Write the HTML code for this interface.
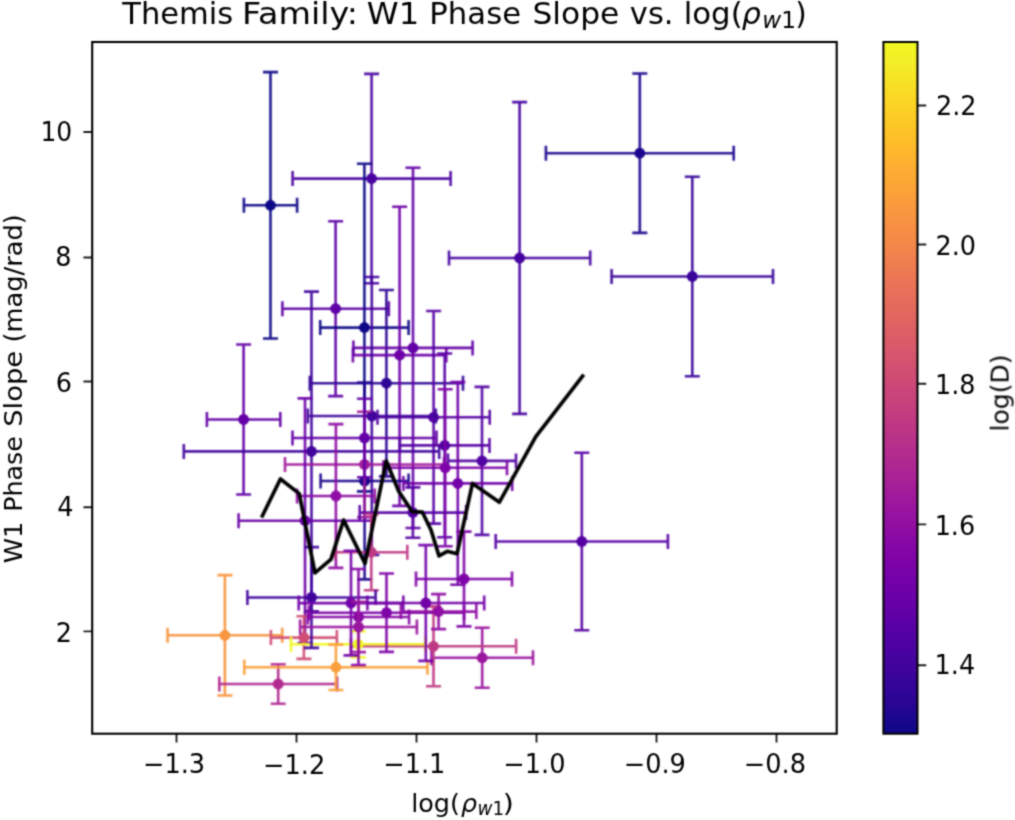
<!DOCTYPE html>
<html lang="en"><head><meta charset="utf-8"><title>Themis Family: W1 Phase Slope vs. log(rho_W1)</title>
<style>html,body{margin:0;padding:0;background:#fff;overflow:hidden}svg{display:block}text{font-family:'DejaVu Sans','Liberation Sans',sans-serif;fill:#000}</style></head><body>
<svg width="1015" height="820" viewBox="0 0 1015 820">
<defs><filter id="bl" x="0" y="0" width="1015" height="820" filterUnits="userSpaceOnUse" color-interpolation-filters="sRGB"><feConvolveMatrix order="5 1" kernelMatrix="0.02193 0.22851 0.49912 0.22851 0.02193" edgeMode="duplicate" preserveAlpha="false" result="h"/><feConvolveMatrix in="h" order="1 5" kernelMatrix="0.02193 0.22851 0.49912 0.22851 0.02193" edgeMode="duplicate" preserveAlpha="false"/></filter><filter id="bt" x="0" y="0" width="1015" height="820" filterUnits="userSpaceOnUse" color-interpolation-filters="sRGB"><feConvolveMatrix order="5 1" kernelMatrix="0.00539 0.18786 0.61348 0.18786 0.00539" edgeMode="duplicate" preserveAlpha="false" result="h"/><feConvolveMatrix in="h" order="1 5" kernelMatrix="0.00539 0.18786 0.61348 0.18786 0.00539" edgeMode="duplicate" preserveAlpha="false"/></filter>
<linearGradient id="pl" x1="0" y1="0" x2="0" y2="1"><stop offset="0.0000" stop-color="#f0f921"/><stop offset="0.0312" stop-color="#f4ed27"/><stop offset="0.0625" stop-color="#f8df25"/><stop offset="0.0938" stop-color="#fcd225"/><stop offset="0.1250" stop-color="#fdc527"/><stop offset="0.1562" stop-color="#feb82c"/><stop offset="0.1875" stop-color="#fdac33"/><stop offset="0.2188" stop-color="#fba139"/><stop offset="0.2500" stop-color="#f89540"/><stop offset="0.2812" stop-color="#f58b47"/><stop offset="0.3125" stop-color="#f0804e"/><stop offset="0.3438" stop-color="#eb7655"/><stop offset="0.3750" stop-color="#e66c5c"/><stop offset="0.4062" stop-color="#e06363"/><stop offset="0.4375" stop-color="#da5a6a"/><stop offset="0.4688" stop-color="#d35171"/><stop offset="0.5000" stop-color="#cc4778"/><stop offset="0.5312" stop-color="#c43e7f"/><stop offset="0.5625" stop-color="#bc3587"/><stop offset="0.5938" stop-color="#b32c8e"/><stop offset="0.6250" stop-color="#aa2395"/><stop offset="0.6562" stop-color="#a01a9c"/><stop offset="0.6875" stop-color="#9511a1"/><stop offset="0.7188" stop-color="#8a09a5"/><stop offset="0.7500" stop-color="#7e03a8"/><stop offset="0.7812" stop-color="#7201a8"/><stop offset="0.8125" stop-color="#6600a7"/><stop offset="0.8438" stop-color="#5901a5"/><stop offset="0.8750" stop-color="#4c02a1"/><stop offset="0.9062" stop-color="#3f049c"/><stop offset="0.9375" stop-color="#310597"/><stop offset="0.9688" stop-color="#220690"/><stop offset="1.0000" stop-color="#0d0887"/></linearGradient></defs>
<rect width="1015" height="820" fill="#fff"/>
<g filter="url(#bl)">
<g id="errorbars" stroke-width="2.60" fill="none">
<g stroke="#0d0887"><path d="M243.9 205.3H297.1M270.5 72.1V338.5M243.9 197.8v15.0M297.1 197.8v15.0M263.0 72.1h15.0M263.0 338.5h15.0" stroke-opacity="0.93"/><path d="M276.5 205.3L274.4 209.2L270.5 211.3L266.6 209.2L264.5 205.3L266.6 201.4L270.5 199.3L274.4 201.4Z" fill="#0d0887" stroke="none"/></g>
<g stroke="#4903a0"><path d="M292.6 178.6H450.6M371.6 73.9V283.3M292.6 171.1v15.0M450.6 171.1v15.0M364.1 73.9h15.0M364.1 283.3h15.0" stroke-opacity="0.93"/><path d="M377.6 178.6L375.5 182.5L371.6 184.6L367.7 182.5L365.6 178.6L367.7 174.7L371.6 172.6L375.5 174.7Z" fill="#4903a0" stroke="none"/></g>
<g stroke="#1b068d"><path d="M545.9 153.2H733.7M639.8 73.5V232.9M545.9 145.7v15.0M733.7 145.7v15.0M632.3 73.5h15.0M632.3 232.9h15.0" stroke-opacity="0.93"/><path d="M645.8 153.2L643.7 157.1L639.8 159.2L635.9 157.1L633.8 153.2L635.9 149.3L639.8 147.2L643.7 149.3Z" fill="#1b068d" stroke="none"/></g>
<g stroke="#38049a"><path d="M611.6 276.5H773.0M692.3 176.8V376.2M611.6 269.0v15.0M773.0 269.0v15.0M684.8 176.8h15.0M684.8 376.2h15.0" stroke-opacity="0.93"/><path d="M698.3 276.5L696.2 280.4L692.3 282.5L688.4 280.4L686.3 276.5L688.4 272.6L692.3 270.5L696.2 272.6Z" fill="#38049a" stroke="none"/></g>
<g stroke="#46039f"><path d="M449.0 258.0H590.2M519.6 102.1V413.9M449.0 250.5v15.0M590.2 250.5v15.0M512.1 102.1h15.0M512.1 413.9h15.0" stroke-opacity="0.93"/><path d="M525.6 258.0L523.5 261.9L519.6 264.0L515.7 261.9L513.6 258.0L515.7 254.1L519.6 252.0L523.5 254.1Z" fill="#46039f" stroke="none"/></g>
<g stroke="#6300a7"><path d="M206.9 419.5H280.3M243.6 344.5V494.5M206.9 412.0v15.0M280.3 412.0v15.0M236.1 344.5h15.0M236.1 494.5h15.0" stroke-opacity="0.93"/><path d="M249.6 419.5L247.5 423.4L243.6 425.5L239.7 423.4L237.6 419.5L239.7 415.6L243.6 413.5L247.5 415.6Z" fill="#6300a7" stroke="none"/></g>
<g stroke="#5e01a6"><path d="M282.4 308.7H388.8M335.6 221.3V396.1M282.4 301.2v15.0M388.8 301.2v15.0M328.1 221.3h15.0M328.1 396.1h15.0" stroke-opacity="0.93"/><path d="M341.6 308.7L339.5 312.6L335.6 314.7L331.7 312.6L329.6 308.7L331.7 304.8L335.6 302.7L339.5 304.8Z" fill="#5e01a6" stroke="none"/></g>
<g stroke="#0d0887"><path d="M320.2 327.6H408.6M364.4 163.8V491.4M320.2 320.1v15.0M408.6 320.1v15.0M356.9 163.8h15.0M356.9 491.4h15.0" stroke-opacity="0.93"/><path d="M370.4 327.6L368.3 331.5L364.4 333.6L360.5 331.5L358.4 327.6L360.5 323.7L364.4 321.6L368.3 323.7Z" fill="#0d0887" stroke="none"/></g>
<g stroke="#2f0596"><path d="M309.8 383.2H463.0M386.4 290.0V476.4M309.8 375.7v15.0M463.0 375.7v15.0M378.9 290.0h15.0M378.9 476.4h15.0" stroke-opacity="0.93"/><path d="M392.4 383.2L390.3 387.1L386.4 389.2L382.5 387.1L380.4 383.2L382.5 379.3L386.4 377.2L390.3 379.3Z" fill="#2f0596" stroke="none"/></g>
<g stroke="#6e00a8"><path d="M352.9 355.1H446.3M399.6 206.7V505.9M352.9 347.6v15.0M446.3 347.6v15.0M392.1 206.7h15.0M392.1 505.9h15.0" stroke-opacity="0.93"/><path d="M405.6 355.1L403.5 359.0L399.6 361.1L395.7 359.0L393.6 355.1L395.7 351.2L399.6 349.1L403.5 351.2Z" fill="#6e00a8" stroke="none"/></g>
<g stroke="#6300a7"><path d="M353.4 347.9H472.6M413.0 167.8V528.0M353.4 340.4v15.0M472.6 340.4v15.0M405.5 167.8h15.0M405.5 528.0h15.0" stroke-opacity="0.93"/><path d="M419.0 347.9L416.9 351.8L413.0 353.9L409.1 351.8L407.0 347.9L409.1 344.0L413.0 341.9L416.9 344.0Z" fill="#6300a7" stroke="none"/></g>
<g stroke="#5601a4"><path d="M377.5 417.3H489.7M433.6 311.0V523.6M377.5 409.8v15.0M489.7 409.8v15.0M426.1 311.0h15.0M426.1 523.6h15.0" stroke-opacity="0.93"/><path d="M439.6 417.3L437.5 421.2L433.6 423.3L429.7 421.2L427.6 417.3L429.7 413.4L433.6 411.3L437.5 413.4Z" fill="#5601a4" stroke="none"/></g>
<g stroke="#41049d"><path d="M307.8 416.0H435.8M371.8 277.0V555.0M307.8 408.5v15.0M435.8 408.5v15.0M364.3 277.0h15.0M364.3 555.0h15.0" stroke-opacity="0.93"/><path d="M377.8 416.0L375.7 419.9L371.8 422.0L367.9 419.9L365.8 416.0L367.9 412.1L371.8 410.0L375.7 412.1Z" fill="#41049d" stroke="none"/></g>
<g stroke="#41049d"><path d="M183.8 451.4H439.2M311.5 291.6V611.2M183.8 443.9v15.0M439.2 443.9v15.0M304.0 291.6h15.0M304.0 611.2h15.0" stroke-opacity="0.93"/><path d="M317.5 451.4L315.4 455.3L311.5 457.4L307.6 455.3L305.5 451.4L307.6 447.5L311.5 445.4L315.4 447.5Z" fill="#41049d" stroke="none"/></g>
<g stroke="#1b068d"><path d="M320.6 481.0H408.6M364.6 382.6V579.4M320.6 473.5v15.0M408.6 473.5v15.0M357.1 382.6h15.0M357.1 579.4h15.0" stroke-opacity="0.93"/><path d="M370.6 481.0L368.5 484.9L364.6 487.0L360.7 484.9L358.6 481.0L360.7 477.1L364.6 475.0L368.5 477.1Z" fill="#1b068d" stroke="none"/></g>
<g stroke="#a11b9b"><path d="M285.0 464.5H444.0M364.5 411.8V517.2M285.0 457.0v15.0M444.0 457.0v15.0M357.0 411.8h15.0M357.0 517.2h15.0" stroke-opacity="0.93"/><path d="M370.5 464.5L368.4 468.4L364.5 470.5L360.6 468.4L358.5 464.5L360.6 460.6L364.5 458.5L368.4 460.6Z" fill="#a11b9b" stroke="none"/></g>
<g stroke="#6300a7"><path d="M292.5 438.0H436.5M364.5 398.8V477.2M292.5 430.5v15.0M436.5 430.5v15.0M357.0 398.8h15.0M357.0 477.2h15.0" stroke-opacity="0.93"/><path d="M370.5 438.0L368.4 441.9L364.5 444.0L360.6 441.9L358.5 438.0L360.6 434.1L364.5 432.0L368.4 434.1Z" fill="#6300a7" stroke="none"/></g>
<g stroke="#8f0da4"><path d="M297.1 496.0H374.7M335.9 424.1V567.9M297.1 488.5v15.0M374.7 488.5v15.0M328.4 424.1h15.0M328.4 567.9h15.0" stroke-opacity="0.93"/><path d="M341.9 496.0L339.8 499.9L335.9 502.0L332.0 499.9L329.9 496.0L332.0 492.1L335.9 490.0L339.8 492.1Z" fill="#8f0da4" stroke="none"/></g>
<g stroke="#6a00a8"><path d="M238.6 520.7H371.4M305.0 398.4V643.0M238.6 513.2v15.0M371.4 513.2v15.0M297.5 398.4h15.0M297.5 643.0h15.0" stroke-opacity="0.93"/><path d="M311.0 520.7L308.9 524.6L305.0 526.7L301.1 524.6L299.0 520.7L301.1 516.8L305.0 514.7L308.9 516.8Z" fill="#6a00a8" stroke="none"/></g>
<g stroke="#5601a4"><path d="M399.9 445.4H489.5M444.7 353.5V537.3M399.9 437.9v15.0M489.5 437.9v15.0M437.2 353.5h15.0M437.2 537.3h15.0" stroke-opacity="0.93"/><path d="M450.7 445.4L448.6 449.3L444.7 451.4L440.8 449.3L438.7 445.4L440.8 441.5L444.7 439.4L448.6 441.5Z" fill="#5601a4" stroke="none"/></g>
<g stroke="#5102a3"><path d="M448.0 460.9H516.0M482.0 386.9V534.9M448.0 453.4v15.0M516.0 453.4v15.0M474.5 386.9h15.0M474.5 534.9h15.0" stroke-opacity="0.93"/><path d="M488.0 460.9L485.9 464.8L482.0 466.9L478.1 464.8L476.0 460.9L478.1 457.0L482.0 454.9L485.9 457.0Z" fill="#5102a3" stroke="none"/></g>
<g stroke="#7e03a8"><path d="M383.4 467.8H507.0M445.2 389.3V546.3M383.4 460.3v15.0M507.0 460.3v15.0M437.7 389.3h15.0M437.7 546.3h15.0" stroke-opacity="0.93"/><path d="M451.2 467.8L449.1 471.7L445.2 473.8L441.3 471.7L439.2 467.8L441.3 463.9L445.2 461.8L449.1 463.9Z" fill="#7e03a8" stroke="none"/></g>
<g stroke="#7201a8"><path d="M403.4 483.4H512.2M457.8 382.1V584.7M403.4 475.9v15.0M512.2 475.9v15.0M450.3 382.1h15.0M450.3 584.7h15.0" stroke-opacity="0.93"/><path d="M463.8 483.4L461.7 487.3L457.8 489.4L453.9 487.3L451.8 483.4L453.9 479.5L457.8 477.4L461.7 479.5Z" fill="#7201a8" stroke="none"/></g>
<g stroke="#5601a4"><path d="M359.7 512.6H466.1M412.9 487.4V537.8M359.7 505.1v15.0M466.1 505.1v15.0M405.4 487.4h15.0M405.4 537.8h15.0" stroke-opacity="0.93"/><path d="M418.9 512.6L416.8 516.5L412.9 518.6L409.0 516.5L406.9 512.6L409.0 508.7L412.9 506.6L416.8 508.7Z" fill="#5601a4" stroke="none"/></g>
<g stroke="#5601a4"><path d="M495.7 541.5H667.9M581.8 452.7V630.3M495.7 534.0v15.0M667.9 534.0v15.0M574.3 452.7h15.0M574.3 630.3h15.0" stroke-opacity="0.93"/><path d="M587.8 541.5L585.7 545.4L581.8 547.5L577.9 545.4L575.8 541.5L577.9 537.6L581.8 535.5L585.7 537.6Z" fill="#5601a4" stroke="none"/></g>
<g stroke="#bf3984"><path d="M335.3 552.2H407.3M371.3 514.2V590.2M335.3 544.7v15.0M407.3 544.7v15.0M363.8 514.2h15.0M363.8 590.2h15.0" stroke-opacity="0.93"/><path d="M377.3 552.2L375.2 556.1L371.3 558.2L367.4 556.1L365.3 552.2L367.4 548.3L371.3 546.2L375.2 548.3Z" fill="#bf3984" stroke="none"/></g>
<g stroke="#7e03a8"><path d="M416.0 579.0H512.0M464.0 531.6V626.4M416.0 571.5v15.0M512.0 571.5v15.0M456.5 531.6h15.0M456.5 626.4h15.0" stroke-opacity="0.93"/><path d="M470.0 579.0L467.9 582.9L464.0 585.0L460.1 582.9L458.0 579.0L460.1 575.1L464.0 573.0L467.9 575.1Z" fill="#7e03a8" stroke="none"/></g>
<g stroke="#f89540"><path d="M167.6 635.3H282.2M224.9 575.1V695.5M167.6 627.8v15.0M282.2 627.8v15.0M217.4 575.1h15.0M217.4 695.5h15.0" stroke-opacity="0.93"/><path d="M230.9 635.3L228.8 639.2L224.9 641.3L221.0 639.2L218.9 635.3L221.0 631.4L224.9 629.3L228.8 631.4Z" fill="#f89540" stroke="none"/></g>
<g stroke="#b12a90"><path d="M219.3 684.0H337.1M278.2 664.2V703.8M219.3 676.5v15.0M337.1 676.5v15.0M270.7 664.2h15.0M270.7 703.8h15.0" stroke-opacity="0.93"/><path d="M284.2 684.0L282.1 687.9L278.2 690.0L274.3 687.9L272.2 684.0L274.3 680.1L278.2 678.0L282.1 680.1Z" fill="#b12a90" stroke="none"/></g>
<g stroke="#d04d73"><path d="M270.9 637.6H336.9M303.9 616.3V658.9M270.9 630.1v15.0M336.9 630.1v15.0M296.4 616.3h15.0M296.4 658.9h15.0" stroke-opacity="0.93"/><path d="M309.9 637.6L307.8 641.5L303.9 643.6L300.0 641.5L297.9 637.6L300.0 633.7L303.9 631.6L307.8 633.7Z" fill="#d04d73" stroke="none"/></g>
<g stroke="#9a169f"><path d="M431.4 657.8H533.0M482.2 627.8V687.8M431.4 650.3v15.0M533.0 650.3v15.0M474.7 627.8h15.0M474.7 687.8h15.0" stroke-opacity="0.93"/><path d="M488.2 657.8L486.1 661.7L482.2 663.8L478.3 661.7L476.2 657.8L478.3 653.9L482.2 651.8L486.1 653.9Z" fill="#9a169f" stroke="none"/></g>
<g stroke="#bf3984"><path d="M350.9 646.3H516.1M433.5 606.4V686.2M350.9 638.8v15.0M516.1 638.8v15.0M426.0 606.4h15.0M426.0 686.2h15.0" stroke-opacity="0.93"/><path d="M439.5 646.3L437.4 650.2L433.5 652.3L429.6 650.2L427.5 646.3L429.6 642.4L433.5 640.3L437.4 642.4Z" fill="#bf3984" stroke="none"/></g>
<g stroke="#f0f921"><path d="M291.0 644.3H425.4M358.2 631.3V657.3M291.0 636.8v15.0M425.4 636.8v15.0M350.7 631.3h15.0M350.7 657.3h15.0" stroke-opacity="0.93"/><path d="M364.2 644.3L362.1 648.2L358.2 650.3L354.3 648.2L352.2 644.3L354.3 640.4L358.2 638.3L362.1 640.4Z" fill="#f0f921" stroke="none"/></g>
<g stroke="#41049d"><path d="M247.4 597.5H375.6M311.5 547.1V647.9M247.4 590.0v15.0M375.6 590.0v15.0M304.0 547.1h15.0M304.0 647.9h15.0" stroke-opacity="0.93"/><path d="M317.5 597.5L315.4 601.4L311.5 603.5L307.6 601.4L305.5 597.5L307.6 593.6L311.5 591.5L315.4 593.6Z" fill="#41049d" stroke="none"/></g>
<g stroke="#fb9f3a"><path d="M244.3 667.3H427.5M335.9 644.6V690.0M244.3 659.8v15.0M427.5 659.8v15.0M328.4 644.6h15.0M328.4 690.0h15.0" stroke-opacity="0.93"/><path d="M341.9 667.3L339.8 671.2L335.9 673.3L332.0 671.2L329.9 667.3L332.0 663.4L335.9 661.3L339.8 663.4Z" fill="#fb9f3a" stroke="none"/></g>
<g stroke="#7e03a8"><path d="M308.9 612.7H464.1M386.5 573.5V651.9M308.9 605.2v15.0M464.1 605.2v15.0M379.0 573.5h15.0M379.0 651.9h15.0" stroke-opacity="0.93"/><path d="M392.5 612.7L390.4 616.6L386.5 618.7L382.6 616.6L380.5 612.7L382.6 608.8L386.5 606.7L390.4 608.8Z" fill="#7e03a8" stroke="none"/></g>
<g stroke="#7201a8"><path d="M367.4 603.0H484.2M425.8 545.1V660.9M367.4 595.5v15.0M484.2 595.5v15.0M418.3 545.1h15.0M418.3 660.9h15.0" stroke-opacity="0.93"/><path d="M431.8 603.0L429.7 606.9L425.8 609.0L421.9 606.9L419.8 603.0L421.9 599.1L425.8 597.0L429.7 599.1Z" fill="#7201a8" stroke="none"/></g>
<g stroke="#8f0da4"><path d="M400.9 611.6H476.3M438.6 594.1V629.1M400.9 604.1v15.0M476.3 604.1v15.0M431.1 594.1h15.0M431.1 629.1h15.0" stroke-opacity="0.93"/><path d="M444.6 611.6L442.5 615.5L438.6 617.6L434.7 615.5L432.6 611.6L434.7 607.7L438.6 605.6L442.5 607.7Z" fill="#8f0da4" stroke="none"/></g>
<g stroke="#7201a8"><path d="M298.7 603.1H403.3M351.0 550.8V655.4M298.7 595.6v15.0M403.3 595.6v15.0M343.5 550.8h15.0M343.5 655.4h15.0" stroke-opacity="0.93"/><path d="M357.0 603.1L354.9 607.0L351.0 609.1L347.1 607.0L345.0 603.1L347.1 599.2L351.0 597.1L354.9 599.2Z" fill="#7201a8" stroke="none"/></g>
<g stroke="#8808a6"><path d="M307.9 617.0H409.1M358.5 569.0V665.0M307.9 609.5v15.0M409.1 609.5v15.0M351.0 569.0h15.0M351.0 665.0h15.0" stroke-opacity="0.93"/><path d="M364.5 617.0L362.4 620.9L358.5 623.0L354.6 620.9L352.5 617.0L354.6 613.1L358.5 611.0L362.4 613.1Z" fill="#8808a6" stroke="none"/></g>
<g stroke="#9a169f"><path d="M300.1 627.0H416.9M358.5 601.9V652.1M300.1 619.5v15.0M416.9 619.5v15.0M351.0 601.9h15.0M351.0 652.1h15.0" stroke-opacity="0.93"/><path d="M364.5 627.0L362.4 630.9L358.5 633.0L354.6 630.9L352.5 627.0L354.6 623.1L358.5 621.0L362.4 623.1Z" fill="#9a169f" stroke="none"/></g>
</g>
<polyline fill="none" stroke="#000" stroke-width="3.7" stroke-linejoin="round" stroke-linecap="square" points="262.4,515.8 280.4,479.0 299.2,493.6 315.0,572.9 330.9,559.4 343.6,520.1 365.0,563.5 386.2,460.8 398.8,491.5 412.2,511.6 422.4,512.2 431.0,530.0 439.0,555.9 447.2,551.3 457.0,553.8 472.5,483.4 499.4,502.2 535.8,436.6 582.6,376.0"/>
</g><g filter="url(#bt)">
<rect x="92.2" y="42.0" width="744.5" height="691.7" fill="none" stroke="#000" stroke-width="2.1"/>
<path d="M176.5 733.7v8.75M296.5 733.7v8.75M416.5 733.7v8.75M536.5 733.7v8.75M656.5 733.7v8.75M776.5 733.7v8.75M92.2 132.0h-8.75M92.2 257.5h-8.75M92.2 381.5h-8.75M92.2 507.3h-8.75M92.2 631.4h-8.75M917.5 105.5h8.75M917.5 244.5h8.75M917.5 383.8h8.75M917.5 524.4h8.75M917.5 665.2h8.75" stroke="#000" stroke-width="1.9" stroke-opacity="0.88" fill="none"/>
<rect x="883.4" y="42.0" width="34.1" height="691.7" fill="url(#pl)" stroke="#000" stroke-width="2"/>
<text transform="translate(122.33 24.00) scale(1.0179 1.0000)" font-size="30">Themis</text>
<text transform="translate(242.00 24.00) scale(1.1115 1.0000)" font-size="30">Family:</text>
<text transform="translate(366.83 24.00) scale(1.0736 1.0000)" font-size="30">W1</text>
<text transform="translate(429.33 24.00) scale(1.0241 1.0000)" font-size="30">Phase</text>
<text transform="translate(532.50 24.00) scale(1.0440 1.0000)" font-size="30">Slope</text>
<text transform="translate(629.83 24.00) scale(1.0171 1.0000)" font-size="30">vs.</text>
<text transform="translate(683.67 24.00) scale(1.0280 1.0000)" font-size="30">log(</text>
<text transform="translate(741.67 24.00) scale(1.0038 1.0000)" font-size="30"><tspan font-style="italic">ρ</tspan></text>
<text transform="translate(762.17 28.00) scale(1.0322 1.0000)" font-size="22.5"><tspan font-style="italic">w</tspan>1</text>
<text transform="translate(795.17 24.00) scale(0.9818 1.0000)" font-size="30">)</text>
<text transform="translate(142.98 773.43) scale(1.0250 1.0400)" font-size="25">−1.3</text>
<text transform="translate(263.07 773.60) scale(1.0250 1.0400)" font-size="25">−1.2</text>
<text transform="translate(383.23 773.43) scale(1.0250 1.0400)" font-size="25">−1.1</text>
<text transform="translate(503.28 773.43) scale(1.0250 1.0400)" font-size="25">−1.0</text>
<text transform="translate(623.67 773.43) scale(1.0250 1.0400)" font-size="25">−0.9</text>
<text transform="translate(743.87 773.43) scale(1.0250 1.0400)" font-size="25">−0.8</text>
<text transform="translate(40.42 140.68) scale(1.0000 1.0400)" font-size="25">10</text>
<text transform="translate(55.37 266.28) scale(1.0200 1.0400)" font-size="25">8</text>
<text transform="translate(55.63 391.93) scale(1.0200 1.0400)" font-size="25">6</text>
<text transform="translate(57.22 515.88) scale(1.0200 1.0400)" font-size="25">4</text>
<text transform="translate(55.77 642.18) scale(1.0200 1.0400)" font-size="25">2</text>
<text transform="translate(935.92 114.97) scale(1.0200 1.0400)" font-size="25">2.2</text>
<text transform="translate(935.42 254.57) scale(1.0200 1.0400)" font-size="25">2.0</text>
<text transform="translate(934.95 394.18) scale(1.0200 1.0400)" font-size="25">1.8</text>
<text transform="translate(934.65 534.95) scale(1.0200 1.0400)" font-size="25">1.6</text>
<text transform="translate(934.55 674.42) scale(1.0200 1.0400)" font-size="25">1.4</text>
<text transform="translate(411.17 811.90) scale(1.0199 1.0000)" font-size="25">log(</text>
<text transform="translate(461.00 811.90) scale(1.0134 1.0000)" font-size="25"><tspan font-style="italic">ρ</tspan></text>
<text transform="translate(477.50 815.30) scale(0.9754 1.0000)" font-size="18.75"><tspan font-style="italic">w</tspan>1</text>
<text transform="translate(502.83 811.90) scale(1.1400 1.0000)" font-size="25">)</text>
<text transform="translate(21.60 563.33) rotate(-90) scale(1.0248 1.0000)" font-size="25">W1</text>
<text transform="translate(21.60 511.83) rotate(-90) scale(1.0130 1.0000)" font-size="25">Phase</text>
<text transform="translate(21.60 426.83) rotate(-90) scale(1.0955 1.0000)" font-size="25">Slope</text>
<text transform="translate(21.60 342.50) rotate(-90) scale(1.0269 1.0000)" font-size="25">(mag/rad)</text>
<text transform="translate(1008.60 431.50) rotate(-90) scale(1.0019 1.0000)" font-size="25">log(D)</text>
</g></svg></body></html>
